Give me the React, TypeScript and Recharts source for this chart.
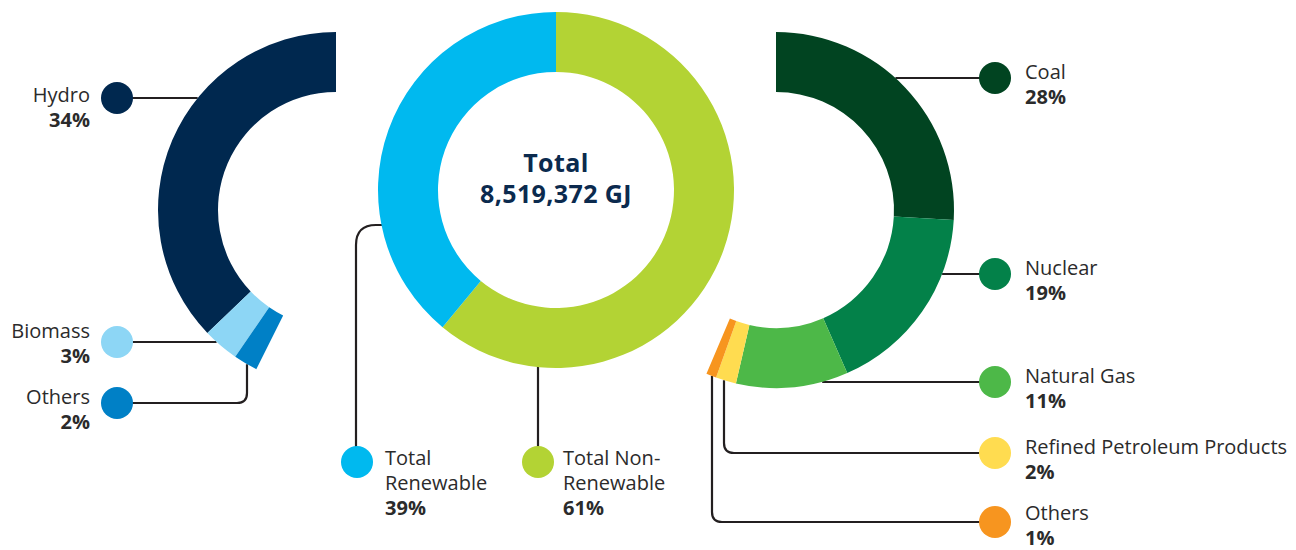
import React from 'react'
import { PieChart, Pie, Cell } from 'recharts'

// energy consumption split, shares in % of total
const totalEnergy = '8,519,372 GJ'
const totalCategories = ['Total Non-Renewable', 'Total Renewable']
const totalShares = [61, 39]
const renewableCategories = ['Hydro', 'Biomass', 'Others']
const renewableShares = [34, 3, 2]
const nonRenewableCategories = ['Coal', 'Nuclear', 'Natural Gas', 'Refined Petroleum Products', 'Others']
const nonRenewableShares = [28, 19, 11, 2, 1]

const totalColors = ['#b3d334', '#00b9ef']
const renewableColors = ['#00284f', '#8dd6f5', '#0080c6']
const nonRenewableColors = ['#014421', '#038149', '#4db848', '#ffdc50', '#f7951f']

const W = 1296
const H = 550
const R_OUT = 178
const R_IN = 118
const LEFT = { cx: 336, cy: 210 }
const MID = { cx: 556, cy: 190 }
const RIGHT = { cx: 776, cy: 210 }

const LINE = '#231f20'
const TEXT = '#2b2b2b'
const FONT = '"Open Sans", sans-serif'

const toRows = (names: string[], values: number[]) => names.map((name, i) => ({ name, value: values[i] }))

// x where a horizontal line at y meets the outer edge of a ring
const edgeX = (c: { cx: number; cy: number }, y: number, side: number) =>
  c.cx + side * Math.sqrt(R_OUT * R_OUT - (y - c.cy) * (y - c.cy))
// y where a vertical line at x meets the lower outer edge of a ring
const edgeY = (c: { cx: number; cy: number }, x: number) =>
  c.cy + Math.sqrt(R_OUT * R_OUT - (x - c.cx) * (x - c.cx))

function Dot({ x, y, fill }: { x: number; y: number; fill: string }) {
  return <circle cx={x} cy={y} r={16} fill={fill} />
}

function Label({ x, y, lines, pct, anchor = 'start', gap = 25 }: { x: number; y: number; lines: string[]; pct: number; anchor?: 'start' | 'end'; gap?: number }) {
  return (
    <text x={x} y={y} textAnchor={anchor} fontFamily={FONT} fontSize={20} fill={TEXT}>
      {lines.map((l, i) => (
        <tspan key={i} x={x} dy={i === 0 ? 0 : 25}>{l}</tspan>
      ))}
      <tspan x={x} dy={gap} fontWeight={700}>{pct}%</tspan>
    </text>
  )
}

export default function App() {
  const totalData = toRows(totalCategories, totalShares)
  const renewableData = toRows(renewableCategories, renewableShares)
  const nonRenewableData = toRows(nonRenewableCategories, nonRenewableShares)

  // legend layout
  const leftDotX = 117
  const leftTextX = 90
  const rightDotX = 995
  const rightTextX = 1025
  const leftY = [98, 342, 403]
  const leftTextY = [102, 338, 404]
  const rightY = [78, 274, 382, 453, 522]
  const rightTextY = [79, 275, 383, 454, 520]

  return (
    <div style={{ position: 'absolute', left: 0, top: 0, width: W, height: H, background: '#fff' }}>
      <PieChart width={W} height={H} margin={{ top: 0, right: 0, bottom: 0, left: 0 }}>
        {/* leader lines */}
        <g stroke={LINE} strokeWidth={2.2} fill="none">
          <path d={`M${leftDotX} ${leftY[0]} H${edgeX(LEFT, leftY[0], -1)}`} />
          <path d={`M${leftDotX} ${leftY[1]} H${edgeX(LEFT, leftY[1], -1)}`} />
          <path d={`M${leftDotX} ${leftY[2]} H237 Q247 ${leftY[2]} 247 ${leftY[2] - 10} V${edgeY(LEFT, 247)}`} />
          <path d={`M356 462 V245 Q356 225 376 225 H${edgeX(MID, 225, -1) + 1}`} />
          <path d={`M538 462 V${edgeY(MID, 538) - 1}`} />
          <path d={`M${rightDotX} ${rightY[0]} H${edgeX(RIGHT, rightY[0], 1)}`} />
          <path d={`M${rightDotX} ${rightY[1]} H${edgeX(RIGHT, rightY[1], 1)}`} />
          <path d={`M${rightDotX} ${rightY[2]} H${edgeX(RIGHT, rightY[2], -1) + 92}`} />
          <path d={`M${rightDotX} ${rightY[3]} H734 Q724 ${rightY[3]} 724 ${rightY[3] - 10} V${edgeY(RIGHT, 724)}`} />
          <path d={`M${rightDotX} ${rightY[4]} H722 Q712 ${rightY[4]} 712 ${rightY[4] - 10} V${edgeY(RIGHT, 712)}`} />
        </g>

        <Pie
          data={renewableData}
          dataKey="value"
          nameKey="name"
          cx={LEFT.cx}
          cy={LEFT.cy}
          innerRadius={R_IN}
          outerRadius={R_OUT}
          startAngle={90}
          endAngle={243.4}
          stroke="none"
          isAnimationActive={false}
        >
          {renewableData.map((d, i) => <Cell key={d.name} fill={renewableColors[i]} />)}
        </Pie>
        <Pie
          data={totalData}
          dataKey="value"
          nameKey="name"
          cx={MID.cx}
          cy={MID.cy}
          innerRadius={R_IN}
          outerRadius={R_OUT}
          startAngle={90}
          endAngle={-270}
          stroke="none"
          isAnimationActive={false}
        >
          {totalData.map((d, i) => <Cell key={d.name} fill={totalColors[i]} />)}
        </Pie>
        <Pie
          data={nonRenewableData}
          dataKey="value"
          nameKey="name"
          cx={RIGHT.cx}
          cy={RIGHT.cy}
          innerRadius={R_IN}
          outerRadius={R_OUT}
          startAngle={90}
          endAngle={-113}
          stroke="none"
          isAnimationActive={false}
        >
          {nonRenewableData.map((d, i) => <Cell key={d.name} fill={nonRenewableColors[i]} />)}
        </Pie>

        {/* centre text */}
        <text x={MID.cx} y={172} textAnchor="middle" fontFamily={FONT} fontSize={25} fontWeight={700} fill="#0b2a4e" letterSpacing={0.4}>
          <tspan x={MID.cx}>Total</tspan>
          <tspan x={MID.cx} dy={31}>{totalEnergy}</tspan>
        </text>

        {/* renewable breakdown legend */}
        {renewableData.map((d, i) => (
          <g key={d.name}>
            <Dot x={leftDotX} y={leftY[i]} fill={renewableColors[i]} />
            <Label x={leftTextX} y={leftTextY[i]} lines={[d.name]} pct={d.value} anchor="end" />
          </g>
        ))}

        {/* totals legend */}
        <Dot x={357} y={462} fill={totalColors[1]} />
        <Label x={385} y={465} lines={['Total', 'Renewable']} pct={totalData[1].value} />
        <Dot x={538} y={462} fill={totalColors[0]} />
        <Label x={563} y={465} lines={['Total Non-', 'Renewable']} pct={totalData[0].value} />

        {/* non-renewable breakdown legend */}
        {nonRenewableData.map((d, i) => (
          <g key={d.name + i}>
            <Dot x={rightDotX} y={rightY[i]} fill={nonRenewableColors[i]} />
            <Label x={rightTextX} y={rightTextY[i]} lines={[d.name]} pct={d.value} gap={i === 4 ? 24.5 : 25} />
          </g>
        ))}
      </PieChart>
    </div>
  )
}
